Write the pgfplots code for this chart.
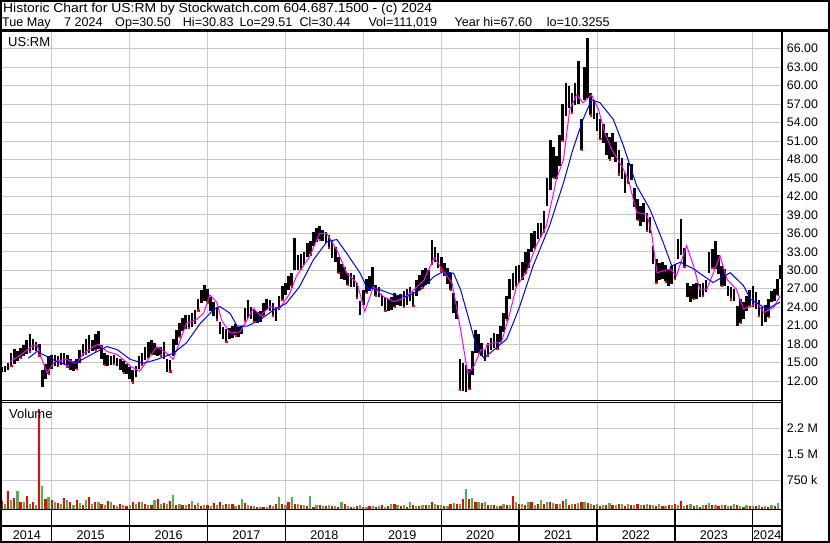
\documentclass[border=0pt]{standalone}
\usepackage{fontspec}
\setmainfont{Liberation Sans}
\usepackage{graphicx}
\usepackage{pgfplots}
\pgfplotsset{compat=1.18}
\usepackage{pgfplotstable}
\definecolor{gridgray}{RGB}{200,200,200}
\definecolor{vgreen}{RGB}{76,180,76}
\definecolor{mag}{RGB}{255,0,255}
\definecolor{mablue}{RGB}{0,0,255}

\pgfplotstableread{
x lo hi
2014.36 13.4 14.2
2014.40 13.5 14.4
2014.44 13.8 15.0
2014.48 14.5 16.5
2014.52 14.8 17.2
2014.56 15.2 16.8
2014.60 15.8 17.4
2014.64 16.0 17.8
2014.68 16.4 18.6
2014.72 16.8 19.7
2014.76 17.0 18.8
2014.80 16.8 18.4
2014.84 16.2 18.0
2014.88 11.1 13.8
2014.92 12.3 14.8
2014.96 13.2 16.0
2015.00 14.0 16.2
2015.04 14.4 16.3
2015.08 14.5 16.0
2015.12 14.6 16.5
2015.16 14.8 16.6
2015.20 14.4 16.2
2015.24 13.8 15.6
2015.28 13.6 15.2
2015.32 14.0 15.6
2015.36 15.0 17.0
2015.40 16.0 18.0
2015.44 16.4 18.8
2015.48 16.6 19.5
2015.52 16.8 18.6
2015.56 17.0 19.6
2015.60 17.2 20.2
2015.64 15.6 17.8
2015.68 14.6 16.5
2015.72 14.4 16.2
2015.76 14.6 16.0
2015.80 14.8 16.2
2015.84 14.4 15.8
2015.88 13.8 15.6
2015.92 13.4 15.2
2015.96 13.2 14.8
2016.00 12.4 14.2
2016.04 11.8 13.8
2016.08 12.6 14.4
2016.12 14.0 16.0
2016.16 14.6 16.6
2016.20 15.4 17.6
2016.24 15.8 18.4
2016.28 16.4 18.7
2016.32 16.2 18.2
2016.36 16.0 17.4
2016.40 16.2 17.6
2016.44 15.6 18.4
2016.48 13.4 15.6
2016.52 13.6 15.4
2016.56 16.0 18.8
2016.60 17.8 20.3
2016.64 19.2 21.4
2016.68 20.2 22.2
2016.72 20.4 22.8
2016.76 20.6 22.8
2016.80 20.8 23.0
2016.84 21.2 23.6
2016.88 23.5 25.4
2016.92 24.6 26.8
2016.96 25.0 27.6
2017.00 24.8 27.0
2017.04 23.4 25.6
2017.08 22.6 24.8
2017.12 22.0 24.0
2017.16 19.6 21.6
2017.20 18.8 20.8
2017.24 18.4 20.4
2017.28 18.8 20.6
2017.32 19.0 20.9
2017.36 19.4 21.2
2017.40 19.2 20.8
2017.44 19.6 21.0
2017.48 21.8 23.8
2017.52 22.2 25.2
2017.56 22.0 24.0
2017.60 21.6 23.6
2017.64 21.4 23.2
2017.68 21.6 23.4
2017.72 22.6 24.6
2017.76 23.6 25.4
2017.80 23.4 25.2
2017.84 22.6 24.6
2017.88 21.8 24.0
2017.92 23.6 25.8
2017.96 25.2 27.4
2018.00 26.0 28.0
2018.04 26.8 29.0
2018.08 27.4 29.6
2018.12 30.0 35.3
2018.16 30.0 32.4
2018.20 30.2 32.7
2018.24 30.8 33.0
2018.28 32.2 34.4
2018.32 32.6 34.8
2018.36 34.0 36.2
2018.40 34.6 36.8
2018.44 35.0 37.2
2018.48 34.8 36.6
2018.52 34.4 36.2
2018.56 33.6 35.8
2018.60 32.0 34.9
2018.64 31.4 33.8
2018.68 29.6 32.2
2018.72 28.6 31.0
2018.76 28.4 30.6
2018.80 27.6 29.6
2018.84 27.3 29.5
2018.88 27.2 29.2
2018.92 25.6 28.0
2018.96 22.7 25.0
2019.00 24.4 26.8
2019.04 26.3 28.6
2019.08 26.6 29.0
2019.12 27.0 30.5
2019.16 25.8 27.6
2019.20 25.6 27.2
2019.24 24.2 26.0
2019.28 23.4 25.6
2019.32 23.3 25.4
2019.36 23.6 25.7
2019.40 24.1 26.3
2019.44 24.4 26.0
2019.48 24.2 26.2
2019.52 24.1 26.6
2019.56 24.4 27.0
2019.60 25.0 27.3
2019.64 24.2 26.4
2019.68 25.8 28.4
2019.72 26.8 29.2
2019.76 27.2 30.0
2019.80 27.6 30.3
2019.84 27.8 30.0
2019.88 31.0 34.9
2019.92 31.4 33.8
2019.96 30.4 32.8
2020.00 30.0 32.2
2020.04 29.0 31.1
2020.08 27.8 30.4
2020.12 26.8 29.6
2020.16 23.0 26.3
2020.20 22.0 25.0
2020.24 10.6 15.5
2020.28 10.3 14.9
2020.32 10.2 14.6
2020.36 10.8 14.0
2020.40 13.0 16.8
2020.44 16.5 20.3
2020.48 16.6 19.6
2020.52 16.0 18.2
2020.56 15.3 17.0
2020.60 16.2 18.2
2020.64 17.0 19.0
2020.68 17.4 19.8
2020.72 17.2 19.6
2020.76 18.3 21.0
2020.80 19.9 23.0
2020.84 22.0 25.8
2020.88 25.3 28.5
2020.92 26.8 29.5
2020.96 27.5 30.7
2021.00 28.0 30.8
2021.04 28.4 31.4
2021.08 29.6 32.9
2021.12 30.4 33.4
2021.16 32.9 36.1
2021.20 33.6 36.4
2021.24 35.0 37.7
2021.28 35.4 37.6
2021.32 36.2 39.6
2021.36 40.5 45.0
2021.40 43.0 51.2
2021.44 45.0 50.0
2021.48 44.8 48.6
2021.52 47.0 52.0
2021.56 51.0 57.0
2021.60 55.0 60.4
2021.64 56.4 59.9
2021.68 55.6 58.8
2021.72 56.8 60.4
2021.76 57.0 64.0
2021.80 49.6 54.5
2021.84 57.7 63.1
2021.88 58.0 67.7
2021.92 55.2 58.8
2021.96 54.5 57.6
2022.00 52.6 55.6
2022.04 51.4 54.5
2022.08 50.7 53.8
2022.12 48.8 52.3
2022.16 48.0 51.6
2022.20 48.4 52.3
2022.24 47.6 50.8
2022.28 45.6 49.6
2022.32 44.8 48.2
2022.36 42.6 45.8
2022.40 44.2 47.5
2022.44 44.6 47.2
2022.48 40.2 43.4
2022.52 38.2 41.5
2022.56 37.2 40.4
2022.60 37.8 41.0
2022.64 36.4 39.3
2022.68 36.1 38.6
2022.72 31.0 34.0
2022.76 28.0 31.8
2022.80 28.4 31.2
2022.84 28.6 31.4
2022.88 28.2 30.8
2022.92 27.5 30.2
2022.96 27.8 30.7
2023.00 28.6 31.0
2023.04 31.8 35.0
2023.08 32.4 38.3
2023.12 30.6 33.6
2023.16 25.6 28.0
2023.20 24.8 27.5
2023.24 25.4 27.8
2023.28 25.3 28.0
2023.32 25.6 27.8
2023.36 25.8 28.0
2023.40 26.4 28.4
2023.44 29.6 33.0
2023.48 30.4 33.4
2023.52 30.2 34.7
2023.56 29.4 32.4
2023.60 27.5 30.7
2023.64 27.4 30.2
2023.68 25.8 27.5
2023.72 25.3 27.2
2023.76 25.0 27.0
2023.80 21.0 24.2
2023.84 21.5 25.3
2023.88 22.0 24.8
2023.92 23.4 25.8
2023.96 24.2 26.8
2024.00 24.0 27.5
2024.04 23.7 26.4
2024.08 22.6 25.2
2024.12 21.0 24.0
2024.16 21.6 24.4
2024.20 22.4 25.3
2024.24 24.8 26.6
2024.28 25.0 27.0
2024.32 26.0 28.6
2024.35 28.5 30.8
}\pricetab

\pgfplotstableread{
x v
2014.36 220
2014.44 480
2014.52 300
2014.60 180
2014.68 350
2014.76 200
2014.84 2613
2014.92 260
2015.00 250
2015.08 160
2015.16 300
2015.24 180
2015.32 250
2015.40 120
2015.48 320
2015.56 200
2015.64 150
2015.72 230
2015.80 110
2015.88 150
2015.96 90
2016.04 180
2016.12 200
2016.20 130
2016.28 120
2016.36 280
2016.44 160
2016.52 230
2016.60 120
2016.68 100
2016.76 140
2016.84 110
2016.92 90
2017.00 120
2017.08 160
2017.16 200
2017.24 130
2017.32 150
2017.40 100
2017.48 160
2017.56 80
2017.64 60
2017.72 70
2017.80 110
2017.88 130
2017.96 140
2018.04 180
2018.12 140
2018.20 100
2018.28 90
2018.36 60
2018.44 100
2018.52 80
2018.60 90
2018.68 70
2018.76 130
2018.84 60
2018.92 80
2019.00 60
2019.08 90
2019.16 70
2019.24 120
2019.32 80
2019.40 140
2019.48 90
2019.56 70
2019.64 100
2019.72 80
2019.80 120
2019.88 180
2019.96 100
2020.04 90
2020.12 150
2020.20 130
2020.28 260
2020.36 280
2020.44 200
2020.52 170
2020.60 120
2020.68 110
2020.76 80
2020.84 100
2020.92 340
2021.00 150
2021.08 120
2021.16 200
2021.24 150
2021.32 130
2021.40 180
2021.48 140
2021.56 220
2021.64 120
2021.72 150
2021.80 200
2021.88 160
2021.96 110
2022.04 90
2022.12 120
2022.20 100
2022.28 130
2022.36 90
2022.44 110
2022.52 150
2022.60 100
2022.68 120
2022.76 80
2022.84 90
2022.92 110
2023.00 130
2023.08 220
2023.16 120
2023.24 90
2023.32 70
2023.40 100
2023.48 110
2023.56 90
2023.64 110
2023.72 80
2023.80 100
2023.88 70
2023.96 80
2024.04 90
2024.12 70
2024.20 60
2024.28 80
}\volred

\pgfplotstableread{
x v
2014.40 150
2014.48 250
2014.56 480
2014.64 200
2014.72 150
2014.80 120
2014.88 600
2014.96 320
2015.04 200
2015.12 150
2015.20 250
2015.28 100
2015.36 160
2015.44 240
2015.52 130
2015.60 180
2015.68 110
2015.76 200
2015.84 90
2015.92 120
2016.00 100
2016.08 150
2016.16 180
2016.24 110
2016.32 240
2016.40 130
2016.48 150
2016.56 380
2016.64 140
2016.72 100
2016.80 220
2016.88 160
2016.96 110
2017.04 90
2017.12 120
2017.20 110
2017.28 150
2017.36 90
2017.44 280
2017.52 100
2017.60 90
2017.68 60
2017.76 70
2017.84 90
2017.92 310
2018.00 120
2018.08 310
2018.16 150
2018.24 120
2018.32 340
2018.40 110
2018.48 90
2018.56 100
2018.64 80
2018.72 180
2018.80 90
2018.88 70
2018.96 110
2019.04 60
2019.12 80
2019.20 90
2019.28 70
2019.36 150
2019.44 100
2019.52 110
2019.60 180
2019.68 90
2019.76 120
2019.84 100
2019.92 140
2020.00 110
2020.08 90
2020.16 160
2020.24 140
2020.32 520
2020.40 300
2020.48 180
2020.56 200
2020.64 110
2020.72 90
2020.80 150
2020.88 120
2020.96 200
2021.04 130
2021.12 180
2021.20 120
2021.28 250
2021.36 190
2021.44 160
2021.52 140
2021.60 260
2021.68 130
2021.76 170
2021.84 190
2021.92 130
2022.00 140
2022.08 100
2022.16 160
2022.24 110
2022.32 130
2022.40 150
2022.48 100
2022.56 120
2022.64 140
2022.72 110
2022.80 130
2022.88 90
2022.96 100
2023.04 120
2023.12 90
2023.20 150
2023.28 110
2023.36 100
2023.44 160
2023.52 120
2023.60 100
2023.68 90
2023.76 130
2023.84 80
2023.92 110
2024.00 90
2024.08 100
2024.16 80
2024.24 110
2024.32 160
}\volgreen

\begin{document}
\begin{tikzpicture}
\useasboundingbox (0pt,0pt) rectangle (830pt,-543pt);
\pgfplotsset{common/.style={
  scale only axis, width=779.7pt,
  xmin=2014.362, xmax=2024.371,
  axis line style={draw=none},
  major tick length=0pt, tick style={draw=none},
  xtick={2015,2016,2017,2018,2019,2020,2021,2022,2023,2024},
  xticklabels={},
  grid=major, grid style={draw=gridgray, line width=0.9pt},
  yticklabel pos=right,
  tick label style={font=\fontsize{12.4}{14}\selectfont},
  yticklabel style={anchor=west, inner sep=0pt, xshift=5pt},
}}
\begin{axis}[common, at={(2pt,-400.5pt)}, anchor=south west,
  height=368.8pt, ymin=8.83, ymax=68.76,
  ytick={12,15,18,21,24,27,30,33,36,39,42,45,48,51,54,57,60,63,66},
  yticklabels={12.00,15.00,18.00,21.00,24.00,27.00,30.00,33.00,36.00,39.00,42.00,45.00,48.00,51.00,54.00,57.00,60.00,63.00,66.00}]
\addplot[draw=none, mark=none, forget plot,
  error bars/.cd, y dir=minus, y explicit, error mark=none,
  error bar style={draw=black, line width=2.6pt}]
  table[x=x, y=hi, y error expr=\thisrow{hi}-\thisrow{lo}] {\pricetab};
\addplot[only marks, mark=square*, mark size=0.6pt, color=red, each nth point=3, forget plot]
  table[x=x, y=lo] {\pricetab};
\addplot[mag, line width=1pt, mark=none] coordinates {
(2014.47,15.2) (2014.60,16.2) (2014.74,17.6) (2014.81,17.9) (2014.89,15.0) (2014.94,13.3)
(2015.04,15.2) (2015.19,15.5) (2015.32,14.9) (2015.41,16.5) (2015.54,17.6) (2015.60,18.0)
(2015.71,16.8) (2015.84,16.3) (2015.92,15.5) (2016.01,14.4) (2016.13,13.6) (2016.22,15.2)
(2016.35,17.6) (2016.48,16.5) (2016.56,15.5) (2016.73,21.4) (2016.86,22.0) (2016.95,23.0)
(2017.03,26.0) (2017.12,24.8) (2017.18,21.9) (2017.29,19.8) (2017.42,20.0) (2017.51,22.0)
(2017.59,23.8) (2017.68,22.6) (2017.80,24.1) (2017.93,23.8) (2018.06,26.3) (2018.14,29.0)
(2018.31,32.2) (2018.44,36.0) (2018.53,36.0) (2018.66,33.3) (2018.79,29.5) (2018.92,27.9)
(2019.02,23.3) (2019.13,27.3) (2019.26,25.7) (2019.39,24.9) (2019.52,25.4) (2019.65,26.8)
(2019.78,28.4) (2019.91,32.1) (2020.03,29.8) (2020.14,27.9) (2020.25,20.3) (2020.34,13.3)
(2020.42,14.4) (2020.51,17.1) (2020.56,17.0) (2020.59,17.9) (2020.68,18.2) (2020.77,18.2)
(2020.86,22.0) (2020.97,27.5) (2021.09,29.6) (2021.22,34.0) (2021.35,37.2) (2021.48,44.8)
(2021.57,48.0) (2021.65,56.1) (2021.74,58.5) (2021.82,57.2) (2021.93,58.5) (2022.02,56.1)
(2022.10,52.3) (2022.19,49.6) (2022.32,46.9) (2022.40,44.8) (2022.51,39.4) (2022.64,39.1)
(2022.70,36.1) (2022.77,29.6) (2022.94,30.2) (2023.02,29.1) (2023.15,34.0) (2023.24,30.7)
(2023.32,26.9) (2023.41,26.9) (2023.58,32.3) (2023.67,28.5) (2023.79,26.9) (2023.88,23.7)
(2023.99,24.2) (2024.05,24.8) (2024.14,23.1) (2024.27,24.0) (2024.35,25.8)
};
\addplot[mablue, line width=1pt, mark=none] coordinates {
(2014.70,15.7) (2014.81,16.8) (2014.89,16.3) (2015.06,15.2) (2015.19,14.6) (2015.32,15.0)
(2015.54,16.5) (2015.71,17.6) (2015.84,17.1) (2016.01,15.5) (2016.18,14.9) (2016.35,15.5)
(2016.56,16.5) (2016.73,18.2) (2016.91,21.4) (2017.08,23.6) (2017.16,24.1) (2017.29,23.0)
(2017.38,20.9) (2017.51,20.9) (2017.68,22.0) (2017.88,23.8) (2018.01,24.6) (2018.18,27.3)
(2018.36,31.7) (2018.53,34.6) (2018.66,35.0) (2018.79,32.7) (2018.96,29.5) (2019.05,27.1)
(2019.22,26.8) (2019.39,26.0) (2019.56,25.7) (2019.73,26.8) (2019.91,29.0) (2020.03,29.8)
(2020.16,29.5) (2020.25,26.8) (2020.38,20.9) (2020.46,17.3) (2020.55,15.7) (2020.68,17.1)
(2020.84,18.8) (2020.94,21.9) (2021.01,24.2) (2021.18,30.7) (2021.39,37.2) (2021.57,44.2)
(2021.69,49.6) (2021.82,54.5) (2021.93,57.7) (2022.04,57.2) (2022.21,54.5) (2022.34,50.2)
(2022.51,43.7) (2022.68,39.9) (2022.85,34.5) (2022.96,30.7) (2023.07,31.3) (2023.24,30.2)
(2023.49,28.0) (2023.71,29.6) (2023.88,27.5) (2023.97,25.3) (2024.18,23.7) (2024.35,24.8)
};
\end{axis}
\begin{axis}[common, at={(2pt,-509.3pt)}, anchor=south west,
  height=106.5pt, ymin=0, ymax=2783,
  ytick={758,1445,2117}, yticklabels={750 k,1.5 M,2.2 M}]
\addplot[ycomb, color=red, line width=2.2pt, mark=none] table[x=x, y=v] {\volred};
\addplot[ycomb, color=vgreen, line width=2.2pt, mark=none] table[x=x, y=v] {\volgreen};
\end{axis}
\begin{scope}[x=1pt, y=-1pt]
\draw[line width=2pt] (1,1) rectangle (829,542);
\draw[line width=2.4pt] (0,30.5) -- (830,30.5);
\draw[line width=2pt] (782,30.5) -- (782,543);
\draw[line width=1pt] (0,400.7) -- (782,400.7);
\draw[line width=1pt] (0,402.6) -- (782,402.6);
\draw[line width=1.6pt] (0,509.5) -- (782,509.5);
\draw[line width=1.5pt] (0,526) -- (782,526);
\foreach \xx in {51.7,129.6,207.5,285.4,363.3,441.2,519.1,597.0,674.9,752.8}
  \draw[line width=1.3pt] (\xx,509.5) -- (\xx,543);
\foreach \xx/\yy in {26.9/2014,90.65/2015,168.55/2016,246.45/2017,324.35/2018,402.25/2019,480.15/2020,558.05/2021,635.95/2022,713.85/2023,767.25/2024}
  \node[anchor=base, inner sep=0pt, font=\fontsize{12.6}{14}\selectfont] at (\xx,539.3) {\yy};
\node[anchor=base west, inner sep=0pt, font=\fontsize{13}{15}\selectfont] at (8,47) {US:RM};
\node[anchor=base west, inner sep=0pt, font=\fontsize{13}{15}\selectfont] at (9,418) {Volume};
\node[anchor=base west, inner sep=0pt, font=\fontsize{13}{15}\selectfont] at (3,12.5) {\scalebox{1.07}[1]{Historic Chart for US:RM by Stockwatch.com 604.687.1500 - (c) 2024}};
\begin{scope}[every node/.style={anchor=base west, inner sep=0pt, font=\fontsize{12.6}{15}\selectfont}]
\node at (2,27) {Tue May};
\node at (64,27) {7 2024};
\node at (115,27) {Op=30.50};
\node at (182.7,27) {Hi=30.83};
\node at (239.3,27) {Lo=29.51};
\node at (299.3,27) {Cl=30.44};
\node at (368.3,27) {Vol=111,019};
\node at (454.3,27) {Year hi=67.60};
\node at (546.7,27) {lo=10.3255};
\end{scope}
\end{scope}
\end{tikzpicture}
\end{document}
